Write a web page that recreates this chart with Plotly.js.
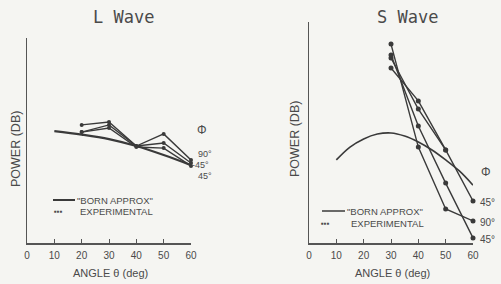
<!DOCTYPE html>
<html><head><meta charset="utf-8">
<script src="https://cdn.plot.ly/plotly-3.0.1.min.js"></script>
<style>html,body{margin:0;padding:0;background:#f5f5f2}#c{width:501px;height:284px}</style>
</head><body><div id="c"></div>
<script>
// ---- data (arbitrary dB units) ----
const xTicks = [0, 10, 20, 30, 40, 50, 60];
const lBornAngles = [10, 20, 30, 40, 50, 60];
const lBorn = [54.6, 52.9, 50.7, 47.3, 42.9, 38.0];
const lExpAngles = [20, 30, 40, 50, 60];
const lExp90 = [57.6, 59.0, 47.3, 53.2, 40.5];
const lExp45a = [54.1, 57.6, 47.3, 48.8, 39.0];
const lExp45b = [54.1, 56.1, 46.8, 46.3, 37.6];
const lLabels = ["90°", "-45°", "45°"];

const sBornAngles = [10, 15, 20, 25, 30, 35, 40, 45, 50, 55, 60];
const sBorn = [37.6, 43.4, 47.1, 49.3, 49.8, 48.4, 45.7, 42.1, 37.6, 32.6, 26.2];
const sExpAngles = [30, 40, 50, 60];
const sExp45a = [79.2, 64.3, 42.1, 19.0];
const sExpB = [83.7, 60.6, 42.1];
const sExp45b = [85.1, 52.9, 27.1, 2.3];
const sExp90 = [90.0, 43.4, 15.4, 10.0];
const sLabels = ["45°", "90°", "45°"];

const ink = '#3a3a3a';
const txt = '#4a4a4a';
const lab = "Liberation Sans, Arial, sans-serif";
const mono = "DejaVu Sans Mono, monospace";

function expTrace(x, y, xa, ya, sz) {
  return {x: x, y: y, xaxis: xa, yaxis: ya, mode: 'lines+markers', cliponaxis: false,
    line: {color: ink, width: 1.4}, marker: {color: ink, size: sz, symbol: 'circle'}, showlegend: false, hoverinfo: 'skip'};
}
const traces = [
  {x: lBornAngles, y: lBorn, xaxis: 'x', yaxis: 'y', mode: 'lines', line: {color: ink, width: 2.2, shape: 'spline'}, cliponaxis: false, showlegend: false},
  expTrace(lExpAngles, lExp90, 'x', 'y', 4),
  expTrace(lExpAngles, lExp45a, 'x', 'y', 4),
  expTrace(lExpAngles, lExp45b, 'x', 'y', 4),
  {x: sBornAngles, y: sBorn, xaxis: 'x2', yaxis: 'y2', mode: 'lines', line: {color: ink, width: 1.6, shape: 'spline'}, cliponaxis: false, showlegend: false},
  expTrace(sExpAngles, sExp45a, 'x2', 'y2', 5),
  expTrace(sExpAngles, sExpB, 'x2', 'y2', 5),
  expTrace(sExpAngles, sExp45b, 'x2', 'y2', 5),
  expTrace(sExpAngles, sExp90, 'x2', 'y2', 5)
];

function xax(domain) {
  return {domain: domain, range: [0, 60], showline: true, linecolor: '#555', linewidth: 1.5,
    showgrid: false, zeroline: false, ticks: 'inside', ticklen: 4, tickcolor: '#555',
    tickvals: xTicks, ticktext: xTicks.map(String), tickfont: {family: lab, size: 10, color: txt},
    ticklabelstandoff: 2, fixedrange: true};
}
function yax(domain, anchor) {
  return {domain: domain, range: [0, 100], showline: true, linecolor: '#555', linewidth: 1.5,
    showgrid: false, zeroline: false, showticklabels: false, ticks: '', anchor: anchor, fixedrange: true};
}
const P = (px) => px / 501, Q = (py) => 1 - py / 284;
const ann = [];
function A(text, x, y, size, fam, extra) {
  ann.push(Object.assign({text: text, x: P(x), y: Q(y), xref: 'paper', yref: 'paper', showarrow: false,
    xanchor: 'center', yanchor: 'middle', borderpad: 0,
    font: {family: fam || lab, size: size, color: txt}}, extra || {}));
}
A('L Wave', 123, 17, 17, mono);
A('S Wave', 407, 17, 17, mono);
A('ANGLE θ (deg)', 110, 273, 11);
A('ANGLE θ (deg)', 392, 273, 11);
A('POWER (DB)', 16, 149, 12.5, lab, {textangle: -90});
A('POWER (DB)', 295, 139, 12.5, lab, {textangle: -90});
A('Φ', 202, 130, 12);
A('Φ', 486, 172, 12);
// degree labels
A(lLabels[0], 197, 154, 9, lab, {xanchor: 'left'});
A(lLabels[1], 191, 165, 9, lab, {xanchor: 'left'});
A(lLabels[2], 197, 176, 9, lab, {xanchor: 'left'});
A(sLabels[0], 479, 202, 10, lab, {xanchor: 'left'});
A(sLabels[1], 479, 222, 10, lab, {xanchor: 'left'});
A(sLabels[2], 479, 239, 10, lab, {xanchor: 'left'});
// legends
A('"BORN APPROX"', 76, 200, 9.5, lab, {xanchor: 'left'});
A('▪▪▪', 53, 211, 8, lab, {xanchor: 'left'});
A('EXPERIMENTAL', 79, 211, 9.5, lab, {xanchor: 'left'});
A('"BORN APPROX"', 346, 211, 9.5, lab, {xanchor: 'left'});
A('▪▪▪', 320, 224, 8, lab, {xanchor: 'left'});
A('EXPERIMENTAL', 350, 224, 9.5, lab, {xanchor: 'left'});

const shapes = [
  {type: 'line', xref: 'paper', yref: 'paper', x0: P(53), x1: P(75), y0: Q(200), y1: Q(200), line: {color: ink, width: 2}},
  {type: 'line', xref: 'paper', yref: 'paper', x0: P(322), x1: P(345), y0: Q(211), y1: Q(211), line: {color: ink, width: 1.5}}
];

const layout = {
  width: 501, height: 284, margin: {l: 0, r: 0, t: 0, b: 0},
  paper_bgcolor: '#f5f5f2', plot_bgcolor: 'rgba(0,0,0,0)',
  xaxis: Object.assign(xax([27 / 501, 191 / 501]), {anchor: 'y'}),
  yaxis: yax([1 - 243 / 284, 1 - 38 / 284], 'x'),
  xaxis2: Object.assign(xax([309 / 501, 473 / 501]), {anchor: 'y2'}),
  yaxis2: yax([1 - 243 / 284, 1 - 22 / 284], 'x2'),
  annotations: ann, shapes: shapes, showlegend: false
};
Plotly.newPlot('c', traces, layout, {staticPlot: true, displayModeBar: false});
</script></body></html>
